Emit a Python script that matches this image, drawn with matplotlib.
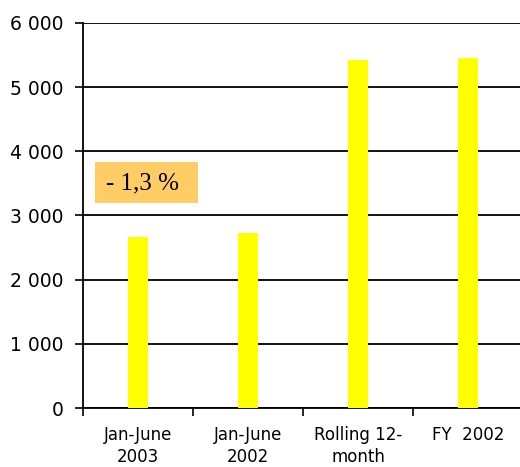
import matplotlib.pyplot as plt
import matplotlib.patches as patches
from matplotlib.ticker import FuncFormatter

# --- data ---
categories = ["Jan-June\n2003", "Jan-June\n2002", "Rolling 12-\nmonth", "FY  2002"]
values = [2665, 2725, 5425, 5455]
yticks = [0, 1000, 2000, 3000, 4000, 5000, 6000]
change_label = "- 1,3 %"

fig = plt.figure(figsize=(5.2, 4.67), dpi=100)
ax = fig.add_axes([83 / 520, 59 / 467, 440 / 520, 385 / 467])

x = list(range(len(categories)))
ax.bar(x, values, width=0.19, color="#ffff00", zorder=3)

ax.set_xlim(-0.5, 3.5)
ax.set_ylim(0, 6000)
ax.set_yticks(yticks)
ax.yaxis.set_major_formatter(FuncFormatter(lambda v, p: f"{int(v):,}".replace(",", " ")))
ax.grid(axis="y", color="black", linewidth=1.3, zorder=1)

# category boundaries as ticks, labels centred between them
ax.set_xticks([i - 0.5 for i in x])
ax.set_xticklabels([])
ax.set_xticks(x, minor=True)
ax.set_xticklabels(categories, minor=True, fontsize=12, linespacing=1.3)
ax.tick_params(axis="x", which="major", length=6, width=1.2, direction="out")
ax.tick_params(axis="x", which="minor", length=0, pad=13)
ax.tick_params(axis="y", length=6, width=1.2, labelsize=13.5, pad=8)

for s in ["top", "right"]:
    ax.spines[s].set_visible(False)
for s in ["left", "bottom"]:
    ax.spines[s].set_linewidth(1.3)
    ax.spines[s].set_color("black")

# change box
box = patches.Rectangle((0.027, 0.532), 0.234, 0.107, transform=ax.transAxes,
                        facecolor="#ffcc66", edgecolor="none", zorder=4)
ax.add_patch(box)
ax.text(0.136, 0.582, change_label, transform=ax.transAxes, fontsize=18,
        family="Liberation Serif", va="center", ha="center", zorder=5)

fig.savefig("out.png", dpi=100)
